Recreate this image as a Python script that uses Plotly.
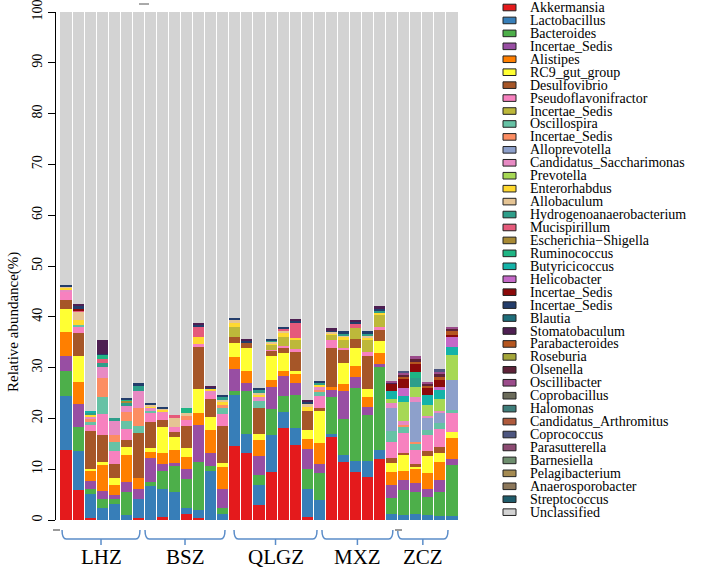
import plotly.graph_objects as go

samples = ["LHZ1", "LHZ2", "LHZ3", "LHZ4", "LHZ5", "LHZ6", "LHZ7",
           "BSZ1", "BSZ2", "BSZ3", "BSZ4", "BSZ5", "BSZ6", "BSZ7",
           "QLGZ1", "QLGZ2", "QLGZ3", "QLGZ4", "QLGZ5", "QLGZ6", "QLGZ7",
           "MXZ1", "MXZ2", "MXZ3", "MXZ4", "MXZ5", "MXZ6", "MXZ7",
           "ZCZ1", "ZCZ2", "ZCZ3", "ZCZ4", "ZCZ5"]

akkermansia = [13.8, 5.9, 0.4, 0, 0, 0, 0.4, 0, 0.5, 0, 1.2, 0.4, 0, 0, 14.6, 13.1, 2.9, 9.4, 18.1, 14.8, 0.5, 0, 16.4, 11.5, 9.4, 8.4, 12.1, 0, 0, 0, 0, 0, 0]
lactobacillus = [10.7, 7.6, 4.8, 2.4, 3.1, 0.9, 3.7, 6.7, 5.7, 5.5, 1.1, 1.6, 9.7, 1.2, 10.1, 3.8, 4.0, 7.3, 3.2, 3.4, 5.7, 3.9, 0.5, 1.2, 2.3, 3.3, 1.7, 1.2, 0.9, 1.2, 0.9, 0.7, 0.7]
bacteroides = [4.8, 4.9, 1.0, 1.7, 1.0, 4.7, 0, 0.7, 3.5, 5.1, 5.7, 9.5, 1.0, 1.1, 0.7, 8.5, 2.0, 5.2, 3.1, 6.4, 3.8, 5.3, 7.4, 7.1, 14.3, 9.0, 16.3, 3.1, 5.0, 4.4, 3.7, 4.9, 10.1]
incertae_1 = [3.0, 4.5, 1.5, 1.7, 0.8, 1.8, 2.0, 4.9, 1.3, 0.6, 2.0, 7.2, 2.4, 3.9, 4.3, 1.5, 3.7, 4.3, 3.9, 2.3, 4.0, 1.8, 1.3, 5.5, 2.1, 1.5, 0.6, 2.6, 2.0, 1.7, 1.6, 2.3, 1.2]
alistipes = [4.8, 4.3, 2.0, 5.0, 2.0, 5.4, 2.1, 1.1, 2.1, 2.6, 2.5, 2.3, 4.6, 4.2, 2.3, 2.4, 3.1, 1.4, 1.1, 1.8, 1.9, 4.1, 0.5, 1.5, 2.3, 2.1, 2.1, 2.5, 1.8, 2.9, 3.1, 3.6, 4.1]
rc9 = [4.4, 5.1, 0.4, 0.6, 1.3, 1.6, 0, 0.8, 5.3, 2.6, 1.6, 4.8, 2.6, 0.9, 2.9, 4.6, 1.3, 4.6, 3.4, 0.6, 1.9, 6.4, 0, 4.2, 3.4, 1.4, 2.4, 1.8, 3.1, 0.3, 3.3, 1.6, 1.3]
desulfovibrio = [1.8, 4.6, 7.5, 5.3, 2.8, 1.3, 8.9, 5.0, 1.3, 1.0, 4.5, 8.2, 3.5, 7.2, 1.2, 0.9, 5.0, 1.1, 1.2, 3.8, 3.7, 0.6, 7.7, 2.5, 1.8, 6.5, 2.2, 1.1, 0.3, 0.5, 0.9, 1.3, 0]
pseudoflav = [1.6, 1.0, 1.1, 4.2, 2.6, 2.3, 0, 1.8, 1.3, 1.0, 1.1, 0.7, 0.9, 2.3, 0, 0, 0, 0.2, 0.3, 0.6, 0, 2.4, 1.6, 0.4, 0, 0.9, 0.5, 3.1, 4.0, 2.8, 3.2, 3.6, 3.6]
incertae_2 = [0, 0, 0, 0, 0, 0, 0, 0, 0, 0, 0, 0, 0, 0, 1.8, 0, 0, 0.9, 1.8, 1.7, 0, 0, 1.0, 1.5, 2.1, 2.3, 2.5, 0, 0, 0, 0, 0, 0]
oscillospira = [0, 0.5, 0.6, 3.4, 1.8, 1.4, 1.5, 0.5, 0, 0, 0, 0, 0, 1.3, 0, 0, 1.4, 0, 0, 0, 0, 0.6, 0, 0, 0, 0, 0, 2.2, 1.3, 1.2, 1.1, 1.0, 0.7]
incertae_3 = [0, 0, 0.5, 3.6, 1.3, 1.9, 3.4, 0, 0, 0, 0.7, 0, 0, 0.5, 0, 0, 0, 0, 0, 0, 0, 0.5, 0, 0, 0, 0, 0, 0, 0.3, 0.4, 0, 0, 0]
alloprevotella = [0, 0, 0, 0, 0, 0, 0, 0, 0, 0, 0, 0, 0, 0, 0, 0, 0, 0, 0, 0, 0, 0, 0, 0, 0, 0, 0, 4.4, 0, 7.9, 2.2, 2.1, 5.9]
saccharimonas = [0.4, 0, 0.5, 2.3, 2.7, 1.2, 3.3, 0.5, 0.4, 0, 0, 0, 0.7, 0, 0, 0, 0.9, 0, 0, 0, 0, 0.5, 0, 0, 0, 0, 0, 1.0, 0.7, 1.0, 0.4, 0.4, 0]
prevotella = [0, 0, 0, 0, 0, 0, 0, 0, 0, 0, 0, 0, 0, 0, 0, 0, 0, 0, 0, 0, 0, 0, 0, 0, 0, 0, 0, 0.8, 3.9, 1.9, 2.2, 2.4, 4.9]
enterorhabdus = [0.4, 1.0, 0.3, 0, 0, 0, 0, 0.4, 0.3, 0, 0, 1.3, 0.4, 0.6, 0.8, 0, 0.4, 0.4, 0.8, 0.5, 0.8, 0.4, 0.4, 0.6, 0, 0.5, 0.4, 0, 0, 0, 0, 0, 0]
allobaculum = [0.3, 1.6, 0, 0, 0, 0, 0, 0.3, 0.3, 1.6, 0.6, 0, 0, 0.5, 0.7, 0, 0.3, 0.3, 0.4, 0, 0.5, 0, 0.3, 0.4, 0, 0.4, 0, 0, 0, 0, 0, 0, 0]
hydrogeno = [0, 0, 0.4, 0.8, 0.7, 0.5, 1.0, 0, 0, 0, 0, 0, 0, 0.5, 0, 0, 0.5, 0.3, 0, 0, 0, 0.4, 0, 0.3, 0, 0.4, 0.4, 0, 0, 1.7, 0, 0, 0]
mucispirillum = [0, 0.3, 0, 0.7, 0, 0, 0, 0, 0, 0.7, 0, 2.1, 0, 0, 0, 0, 0, 0, 0.3, 2.9, 0, 0, 0, 0, 1.0, 0, 0, 0, 0, 0, 0, 0, 0]
escherichia = [0, 0, 0, 0, 0, 0.4, 0, 0, 0, 0, 0, 0, 0, 0, 0, 0, 0, 0, 0, 0, 0, 0, 0, 0, 0, 0, 0, 0, 0, 0, 0, 0, 0]
ruminococcus = [0, 0, 0, 0.8, 0, 0.4, 0, 0, 0, 0, 1.0, 0, 0, 0, 0, 0, 0, 0, 0, 0, 0, 0, 0, 0, 0, 0, 0, 0, 0, 1.3, 0, 0, 0]
butyricicoccus = [0, 0, 0.5, 0, 0, 0, 0, 0, 0, 0, 0, 0, 0, 0, 0, 0, 0, 0, 0, 0, 0, 0, 0, 0, 0, 0, 0, 1.5, 1.1, 0, 2.0, 1.6, 1.6]
helicobacter = [0, 0, 0, 0, 0, 0, 0, 0, 0, 0, 0, 0, 0, 0, 0, 0, 0, 0, 0, 0, 0, 0, 0, 0, 0, 0, 0, 0, 1.5, 0, 0, 0.6, 1.9]
incertae_4 = [0, 0.3, 0, 0, 0, 0, 0, 0, 0, 0, 0, 0, 0, 0, 0, 0, 0, 0, 0, 0, 0, 0, 0, 0, 0, 0, 0, 1.6, 1.8, 1.5, 1.3, 1.5, 0.4]
incertae_5 = [0.3, 0.5, 0, 0.2, 0, 0.3, 0.6, 0.3, 0.2, 0, 0, 0.3, 0.3, 0.4, 0.3, 0.4, 0.5, 0.2, 0.3, 0.3, 0.4, 0.5, 0.3, 0.5, 0.3, 0.5, 0.4, 0, 0, 0, 0, 0, 0]
blautia = [0, 0, 0, 0, 0, 0, 0, 0, 0, 0, 0, 0, 0, 0, 0, 0, 0, 0, 0, 0, 0, 0, 0, 0, 0, 0, 0, 0, 0, 0, 0, 0, 0]
stomatobaculum = [0, 0.4, 0, 2.7, 0, 0, 0, 0, 0, 0, 0, 0.3, 0.3, 0, 0, 0.4, 0, 0, 0, 0.4, 0.4, 0, 0.3, 0, 0.4, 0, 0.5, 0.2, 0, 0, 0, 0, 0]
parabacteroides = [0, 0, 0, 0, 0, 0, 0, 0, 0, 0, 0, 0, 0, 0, 0, 0, 0, 0, 0, 0, 0, 0, 0, 0, 0, 0, 0, 0, 0.5, 0.5, 0.4, 0.6, 1.0]
roseburia = [0, 0, 0, 0, 0, 0, 0, 0, 0, 0, 0, 0, 0, 0, 0, 0, 0, 0, 0, 0, 0, 0, 0, 0, 0, 0, 0, 0, 0, 0, 0, 0, 0]
olsenella = [0, 0, 0, 0, 0, 0, 0, 0, 0, 0, 0, 0, 0, 0, 0, 0, 0, 0, 0, 0, 0, 0, 0, 0, 0, 0, 0, 0, 0.4, 0.5, 0.4, 0.5, 0.3]
oscillibacter = [0, 0, 0, 0, 0, 0, 0, 0, 0, 0, 0, 0, 0, 0, 0, 0, 0, 0, 0, 0, 0, 0, 0, 0, 0, 0, 0, 0.3, 0.4, 0.6, 0.4, 0.5, 0.2]
coprobacillus = [0, 0, 0, 0, 0, 0, 0, 0, 0, 0, 0, 0, 0, 0, 0, 0, 0, 0, 0, 0, 0, 0, 0, 0, 0, 0, 0, 0, 0, 0, 0, 0, 0]
halomonas = [0, 0, 0, 0, 0, 0, 0, 0, 0, 0, 0, 0, 0, 0, 0, 0, 0, 0, 0, 0, 0, 0, 0, 0, 0, 0, 0, 0, 0, 0, 0, 0, 0]
arthromitus = [0, 0, 0, 0, 0, 0, 0, 0, 0, 0, 0, 0, 0, 0, 0, 0, 0, 0, 0, 0, 0, 0, 0, 0, 0, 0, 0, 0, 0, 0, 0, 0, 0]
coprococcus = [0, 0, 0, 0, 0, 0, 0, 0, 0, 0, 0, 0, 0, 0, 0, 0, 0, 0, 0, 0, 0, 0, 0, 0, 0, 0, 0, 0, 0.3, 0, 0, 0.5, 0]
parasutterella = [0, 0, 0, 0, 0, 0, 0, 0, 0, 0, 0, 0, 0, 0, 0, 0, 0, 0, 0, 0, 0, 0, 0, 0, 0, 0, 0, 0, 0, 0, 0, 0, 0]
barnesiella = [0, 0, 0, 0, 0, 0, 0, 0, 0, 0, 0, 0, 0, 0, 0, 0, 0, 0, 0, 0, 0, 0, 0, 0, 0, 0, 0, 0, 0, 0, 0, 0, 0]
pelagibacterium = [0, 0, 0, 0, 0, 0, 0, 0, 0, 0, 0, 0, 0, 0, 0, 0, 0, 0, 0, 0, 0, 0, 0, 0, 0, 0, 0, 0, 0, 0, 0, 0, 0]
anaerosporobacter = [0, 0, 0, 0, 0, 0, 0, 0, 0, 0, 0, 0, 0, 0, 0, 0, 0, 0, 0, 0, 0, 0, 0, 0, 0, 0, 0, 0, 0, 0, 0, 0, 0]
streptococcus = [0, 0, 0, 0, 0, 0, 0, 0, 0, 0, 0, 0, 0, 0, 0, 0, 0, 0, 0, 0, 0, 0, 0, 0, 0, 0, 0, 0, 0, 0, 0, 0, 0]
unclassified = [53.7, 57.5, 78.5, 64.6, 79.9, 75.9, 73.1, 77.0, 77.8, 79.3, 78.0, 61.3, 73.6, 75.4, 60.3, 64.4, 74.0, 64.4, 62.1, 60.5, 76.4, 72.6, 62.3, 62.8, 60.6, 62.8, 57.9, 72.6, 70.7, 67.7, 72.9, 70.3, 62.1]

genus_names = ["Akkermansia", "Lactobacillus", "Bacteroides", "Incertae_Sedis", "Alistipes",
               "RC9_gut_group", "Desulfovibrio", "Pseudoflavonifractor", "Incertae_Sedis", "Oscillospira",
               "Incertae_Sedis", "Alloprevotella", "Candidatus_Saccharimonas", "Prevotella", "Enterorhabdus",
               "Allobaculum", "Hydrogenoanaerobacterium", "Mucispirillum", "Escherichia\u2212Shigella", "Ruminococcus",
               "Butyricicoccus", "Helicobacter", "Incertae_Sedis", "Incertae_Sedis", "Blautia",
               "Stomatobaculum", "Parabacteroides", "Roseburia", "Olsenella", "Oscillibacter",
               "Coprobacillus", "Halomonas", "Candidatus_Arthromitus", "Coprococcus", "Parasutterella",
               "Barnesiella", "Pelagibacterium", "Anaerosporobacter", "Streptococcus", "Unclassified"]

genus_colors = ["#E41A1C", "#377EB8", "#4DAF4A", "#984EA3", "#FF7F00",
                "#FFFF33", "#A65628", "#F781BF", "#BDB83A", "#66C2A5",
                "#FC8D62", "#8DA0CB", "#E78AC3", "#A6D854", "#FFD92F",
                "#E5C494", "#2E9E8A", "#E55A7B", "#A88A35", "#1FB584",
                "#14B3A8", "#C468C8", "#8B0A0A", "#233D6B", "#1E6E7A",
                "#4E1F52", "#B5561F", "#A4A63A", "#5E2238", "#9B4C8B",
                "#6B6B5A", "#3E7D7A", "#AF5A3C", "#4D5680", "#8C4A72",
                "#6E8E6E", "#A58B52", "#8C775A", "#1F5C6B", "#D3D3D3"]

genus_values = [akkermansia, lactobacillus, bacteroides, incertae_1, alistipes,
                rc9, desulfovibrio, pseudoflav, incertae_2, oscillospira,
                incertae_3, alloprevotella, saccharimonas, prevotella, enterorhabdus,
                allobaculum, hydrogeno, mucispirillum, escherichia, ruminococcus,
                butyricicoccus, helicobacter, incertae_4, incertae_5, blautia,
                stomatobaculum, parabacteroides, roseburia, olsenella, oscillibacter,
                coprobacillus, halomonas, arthromitus, coprococcus, parasutterella,
                barnesiella, pelagibacterium, anaerosporobacter, streptococcus, unclassified]

group_labels = ["LHZ", "BSZ", "QLGZ", "MXZ", "ZCZ"]
y_ticks = [0, 10, 20, 30, 40, 50, 60, 70, 80, 90, 100]

# layout geometry (pixels)
W, H = 708, 573
L, R, T, B = 55, 250, 12, 53
PW, PH = W - L - R, H - T - B
SERIF = "Liberation Serif, Times New Roman, serif"

def px_x(p):
    return (p - L) / PW

def px_y(p):
    return (H - B - p) / PH

fig = go.Figure()
for name, color, vals in zip(genus_names, genus_colors, genus_values):
    fig.add_trace(go.Bar(x=samples, y=vals, name=name, marker_color=color,
                         marker_line_width=0, showlegend=False))

shapes = []
annotations = []

# group braces (bar-index spans)
brace_spans = [(-0.33, 6.13), (6.55, 13.18), (13.93, 20.81), (21.22, 27.10), (27.50, 31.67)]
brace_color = "#5B8DC9"
y_top, y_line, y_tick, y_lab = px_y(530), px_y(539), px_y(545), px_y(557)
for (x0, x1), lab in zip(brace_spans, group_labels):
    xc = (x0 + x1) / 2
    d = 0.35
    path = (f"M {x0},{y_top} Q {x0},{y_line} {x0 + d},{y_line} "
            f"L {x1 - d},{y_line} Q {x1},{y_line} {x1},{y_top}")
    shapes.append(dict(type="path", xref="x", yref="paper", path=path,
                       line=dict(color=brace_color, width=1.5)))
    shapes.append(dict(type="line", xref="x", yref="paper", x0=xc, x1=xc,
                       y0=y_line, y1=y_tick, line=dict(color=brace_color, width=1.5)))
    annotations.append(dict(x=xc, y=y_lab, xref="x", yref="paper", text=lab,
                            showarrow=False, xanchor="center", yanchor="middle",
                            font=dict(family=SERIF, size=21, color="black")))

# small marks
shapes.append(dict(type="line", xref="paper", yref="paper", x0=px_x(53), x1=px_x(60),
                   y0=px_y(530), y1=px_y(530), line=dict(color="#9A9A9A", width=2)))
shapes.append(dict(type="line", xref="paper", yref="paper", x0=px_x(395), x1=px_x(402),
                   y0=px_y(530), y1=px_y(530), line=dict(color="#9A9A9A", width=2)))
shapes.append(dict(type="line", xref="paper", yref="paper", x0=px_x(139), x1=px_x(149),
                   y0=px_y(4), y1=px_y(4), line=dict(color="#555555", width=1)))

# custom legend
leg_y0, leg_dy = 7.5, 12.94
for i, (name, color) in enumerate(zip(genus_names, genus_colors)):
    yc = leg_y0 + leg_dy * i
    shapes.append(dict(type="rect", xref="paper", yref="paper",
                       x0=px_x(503), x1=px_x(516), y0=px_y(yc + 3.3), y1=px_y(yc - 3.3),
                       fillcolor=color, line=dict(color="#222222", width=1)))
    annotations.append(dict(x=px_x(528), y=px_y(yc), xref="paper", yref="paper", text=name,
                            showarrow=False, xanchor="left", yanchor="middle",
                            font=dict(family=SERIF, size=14, color="black")))

# y-axis title
annotations.append(dict(x=px_x(13), y=px_y(322), xref="paper", yref="paper",
                        text="Relative abundance(%)", textangle=-90, showarrow=False,
                        xanchor="center", yanchor="middle",
                        font=dict(family=SERIF, size=15, color="black")))

fig.update_layout(
    width=W, height=H, barmode="stack", bargap=0.08,
    margin=dict(l=L, r=R, t=T, b=B, autoexpand=False),
    plot_bgcolor="white", paper_bgcolor="white",
    xaxis=dict(domain=[5 / PW, 1], showticklabels=False, ticks="", showgrid=False,
               zeroline=False, showline=False, range=[-0.5, 32.5]),
    yaxis=dict(range=[0, 100], tickvals=y_ticks, ticktext=[str(v) for v in y_ticks],
               tickangle=-90, ticks="outside", ticklen=7, tickcolor="black",
               showline=True, linecolor="black", linewidth=1, showgrid=False,
               zeroline=False, anchor="free", position=0, ticklabeloverflow="allow",
               tickfont=dict(family=SERIF, size=14, color="black")),
    shapes=shapes, annotations=annotations,
)

fig.write_html("out.html", config={"displayModeBar": False},
               post_script="document.body.style.margin='0';document.body.style.overflow='hidden';")
